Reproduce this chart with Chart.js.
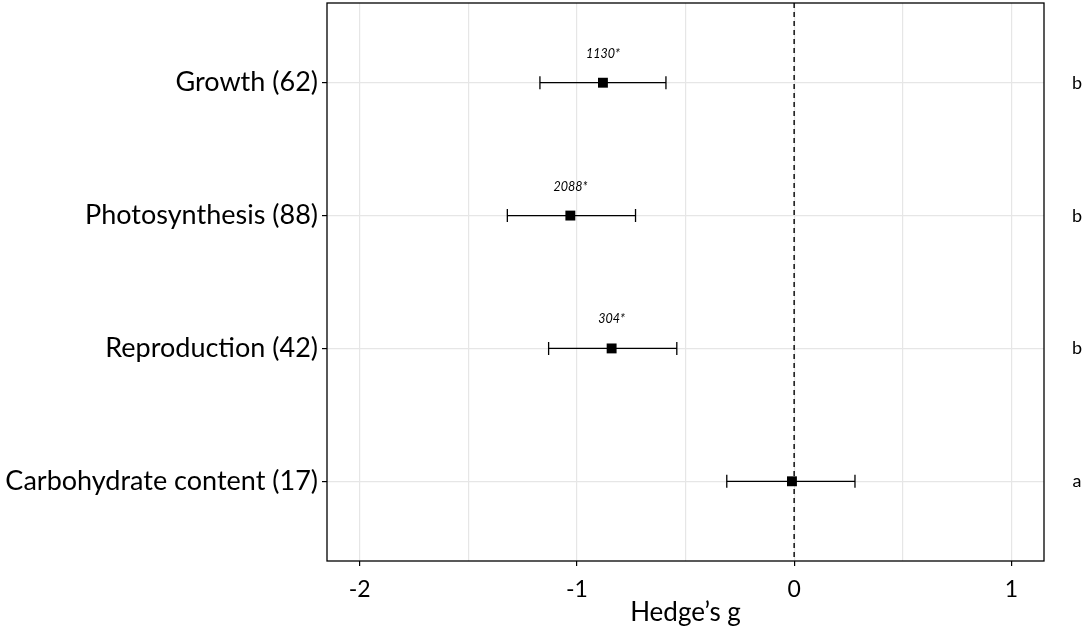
<!DOCTYPE html>
<html>
<head>
<meta charset="utf-8">
<script src="https://cdn.jsdelivr.net/npm/chart.js@4.4.0/dist/chart.umd.min.js"></script>
<style>
  html, body { margin: 0; padding: 0; background: #fff; overflow: hidden; }
  #wrap { width: 1084px; height: 632px; margin-top: -4px; }
</style>
</head>
<body>
<div id="wrap"><canvas id="forest"></canvas></div>
<script>
const outcomes = ['Growth (62)', 'Photosynthesis (88)', 'Reproduction (42)', 'Carbohydrate content (17)'];
const effect = [-0.88, -1.03, -0.84, -0.01];
const ciLow = [-1.17, -1.32, -1.13, -0.31];
const ciHigh = [-0.59, -0.73, -0.54, 0.28];
const studyN = ['1130*', '2088*', '304*', ''];
const groupLetters = ['b', 'b', 'b', 'a'];
const xTicks = [-2, -1.5, -1, -0.5, 0, 0.5, 1];

const FONT = 'Lato, "Open Sans", sans-serif';

// error bars, zero line, panel border and the text bits ggplot put on top
const forestPlugin = {
    id: 'forest',
    beforeDatasetsDraw(chart) {
        const { ctx, chartArea: a, scales: { x, y } } = chart;
        ctx.save();
        ctx.strokeStyle = '#000';
        ctx.lineWidth = 1.4;
        ctx.setLineDash([5, 4]);
        const x0 = x.getPixelForValue(0);
        ctx.beginPath();
        ctx.moveTo(x0, a.top);
        ctx.lineTo(x0, a.bottom);
        ctx.stroke();
        ctx.setLineDash([]);

        ctx.lineWidth = 1.3;
        outcomes.forEach((_, i) => {
            const py = y.getPixelForValue(i + 1);
            const l = x.getPixelForValue(ciLow[i]);
            const r = x.getPixelForValue(ciHigh[i]);
            ctx.beginPath();
            ctx.moveTo(l, py); ctx.lineTo(r, py);
            ctx.moveTo(l, py - 6.5); ctx.lineTo(l, py + 6.5);
            ctx.moveTo(r, py - 6.5); ctx.lineTo(r, py + 6.5);
            ctx.stroke();
        });
        ctx.restore();
    },
    afterDatasetsDraw(chart) {
        const { ctx, chartArea: a, scales: { x, y } } = chart;
        ctx.save();
        ctx.strokeStyle = '#000';
        ctx.lineWidth = 1.3;
        ctx.strokeRect(a.left, a.top, a.right - a.left, a.bottom - a.top);

        ctx.fillStyle = '#000';
        ctx.textAlign = 'center';
        ctx.textBaseline = 'middle';
        ctx.font = 'italic 12.5px ' + FONT;
        outcomes.forEach((_, i) => {
            if (!studyN[i]) return;
            ctx.fillText(studyN[i], x.getPixelForValue(effect[i]), y.getPixelForValue(i + 1) - 29);
        });

        ctx.textBaseline = 'alphabetic';
        ctx.font = '18px ' + FONT;
        outcomes.forEach((_, i) => {
            ctx.fillText(groupLetters[i], a.right + 33, y.getPixelForValue(i + 1) + 6);
        });
        ctx.restore();
    }
};

const ctx = document.getElementById('forest').getContext('2d');
new Chart(ctx, {
    type: 'scatter',
    data: {
        datasets: [{
            data: effect.map((v, i) => ({ x: v, y: i + 1 })),
            pointStyle: 'rect',
            pointRadius: 7,
            pointHoverRadius: 7,
            backgroundColor: '#000',
            borderColor: '#000',
            borderWidth: 0
        }]
    },
    options: {
        responsive: true,
        maintainAspectRatio: false,
        animation: false,
        layout: { padding: { top: 3, right: 40, left: 0, bottom: 0 } },
        plugins: {
            legend: { display: false },
            tooltip: { enabled: false }
        },
        scales: {
            x: {
                type: 'linear',
                min: -2.15,
                max: 1.15,
                afterBuildTicks: scale => { scale.ticks = xTicks.map(v => ({ value: v })); },
                afterFit: scale => {
                    scale.height = 67;
                    scale.paddingLeft = 0;
                    scale.paddingRight = 0;
                },
                border: { display: false },
                grid: {
                    color: '#e6e6e6',
                    lineWidth: 1.2,
                    tickLength: 5,
                    tickColor: c => Number.isInteger(c.tick.value) ? '#000' : 'rgba(0,0,0,0)'
                },
                ticks: {
                    padding: 10,
                    color: '#000',
                    maxRotation: 0,
                    autoSkip: false,
                    font: { family: FONT, size: 23 },
                    callback: v => Number.isInteger(v) ? String(v) : ''
                },
                title: {
                    display: true,
                    text: 'Hedge\u2019s g',
                    color: '#000',
                    font: { family: FONT, size: 26 },
                    padding: { top: 0, bottom: 0 }
                }
            },
            y: {
                type: 'linear',
                min: 0.4,
                max: 4.6,
                reverse: true,
                afterBuildTicks: scale => { scale.ticks = outcomes.map((_, i) => ({ value: i + 1 })); },
                afterFit: scale => {
                    scale.width = 327;
                    scale.paddingTop = 0;
                    scale.paddingBottom = 0;
                },
                border: { display: false },
                grid: {
                    color: '#e6e6e6',
                    lineWidth: 1.2,
                    tickLength: 5,
                    tickColor: '#000'
                },
                ticks: {
                    padding: 4,
                    color: '#000',
                    autoSkip: false,
                    font: { family: FONT, size: 27 },
                    callback: v => outcomes[v - 1]
                }
            }
        }
    },
    plugins: [forestPlugin]
});
</script>
</body>
</html>
